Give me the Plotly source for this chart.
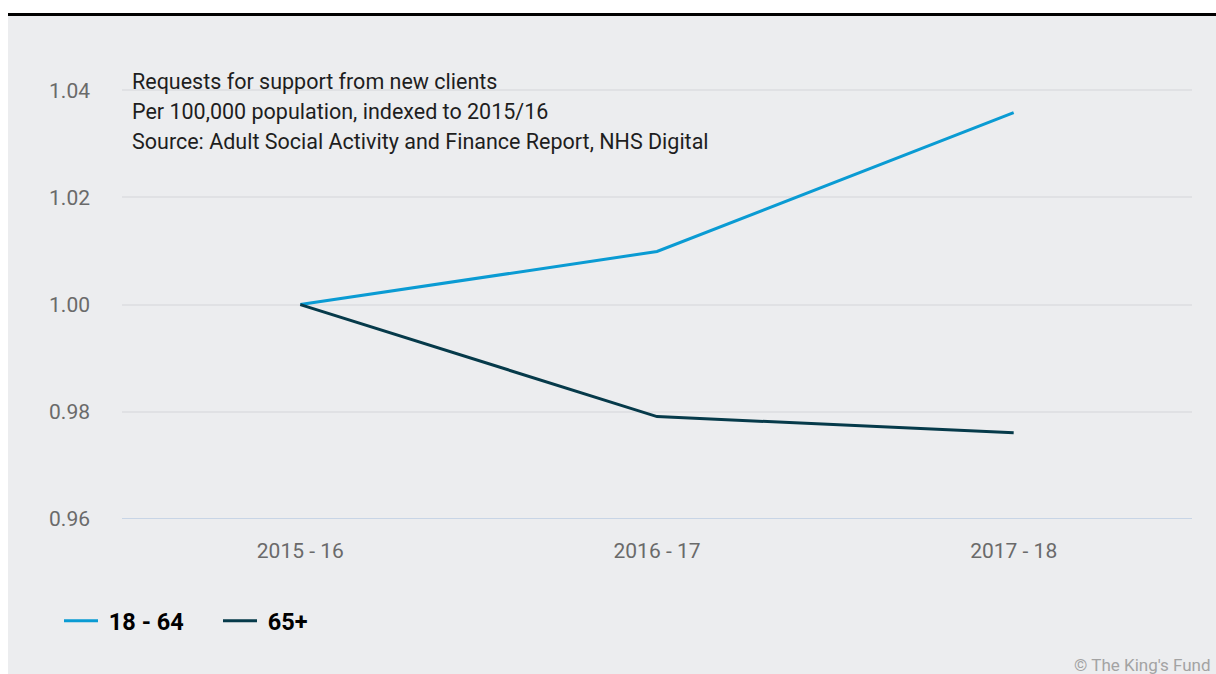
import plotly.graph_objects as go

# Requests for support from new clients, indexed to 2015/16
years = ["2015 - 16", "2016 - 17", "2017 - 18"]
age_18_64 = [1.000, 1.0099, 1.0358]
age_65_plus = [1.000, 0.9791, 0.9761]
y_ticks = [0.96, 0.98, 1.00, 1.02, 1.04]
y_tick_text = ["0.96", "0.98", "1.00", "1.02", "1.04"]

BLUE = "#0a9bd3"
DARK = "#063a4a"
PANEL = "#ecedef"
FONT = "Roboto"

W, H = 1216, 674
ML, MR, MT, MB = 122, 24, 58, 155
PW, PH = W - ML - MR, H - MT - MB


def px_x(p):
    return (p - ML) / PW


def px_y(p):
    return (H - MB - p) / PH


fig = go.Figure()
fig.add_trace(go.Scatter(x=years, y=age_18_64, name=" 18 - 64", mode="lines",
                         line=dict(color=BLUE, width=3)))
fig.add_trace(go.Scatter(x=years, y=age_65_plus, name=" 65+", mode="lines",
                         line=dict(color=DARK, width=3)))

# grey panel and black top rule
fig.add_shape(type="rect", xref="paper", yref="paper", layer="below",
              x0=px_x(8), x1=px_x(W + 5), y0=px_y(H + 5), y1=px_y(16),
              fillcolor=PANEL, line_width=0)
fig.add_shape(type="rect", xref="paper", yref="paper", layer="below",
              x0=px_x(8), x1=px_x(W + 5), y0=px_y(16), y1=px_y(13),
              fillcolor="#000000", line_width=0)

title_lines = ["Requests for support from new clients",
               "Per 100,000 population, indexed to 2015/16",
               "Source: Adult Social Activity and Finance Report, NHS Digital"]
for i, t in enumerate(title_lines):
    fig.add_annotation(text=t, xref="paper", yref="paper",
                       x=px_x(130), y=px_y(82 + i * 29.5), xanchor="left", yanchor="middle",
                       showarrow=False, font=dict(family=FONT, size=21.5, color="#1e1e1e"))

fig.add_annotation(text="© The King's Fund", xref="paper", yref="paper",
                   x=px_x(1213), y=px_y(665), xanchor="right", yanchor="middle",
                   showarrow=False, font=dict(family=FONT, size=17, color="#a3a3a3"))

fig.update_layout(
    width=W, height=H,
    margin=dict(l=ML, r=MR, t=MT, b=MB),
    paper_bgcolor="white",
    plot_bgcolor="rgba(0,0,0,0)",
    font=dict(family=FONT),
    showlegend=True,
    legend=dict(orientation="h", x=px_x(59), y=px_y(621), xanchor="left", yanchor="middle",
                font=dict(family=FONT, size=23.5, color="#000000", weight="bold"),
                itemwidth=34, entrywidth=110, entrywidthmode="pixels",
                bgcolor="rgba(0,0,0,0)"),
    xaxis=dict(type="category", range=[-0.5, 2.5], showgrid=False, zeroline=False,
               showline=False, ticks="", ticklabelstandoff=17,
               tickfont=dict(family=FONT, size=21, color="#6a6a6a")),
    yaxis=dict(range=[0.96, 1.046], tickvals=y_ticks, ticktext=y_tick_text,
               showgrid=True, gridcolor="#e0e1e4", gridwidth=2, zeroline=False,
               showline=False, ticks="", ticklabelstandoff=31,
               tickfont=dict(family=FONT, size=21, color="#6a6a6a")),
)

# bluish baseline at 0.96
fig.add_shape(type="line", xref="paper", yref="y", x0=0, x1=1, y0=0.96, y1=0.96,
              line=dict(color="#c8d5e6", width=2))

fig.write_html("out.html")
